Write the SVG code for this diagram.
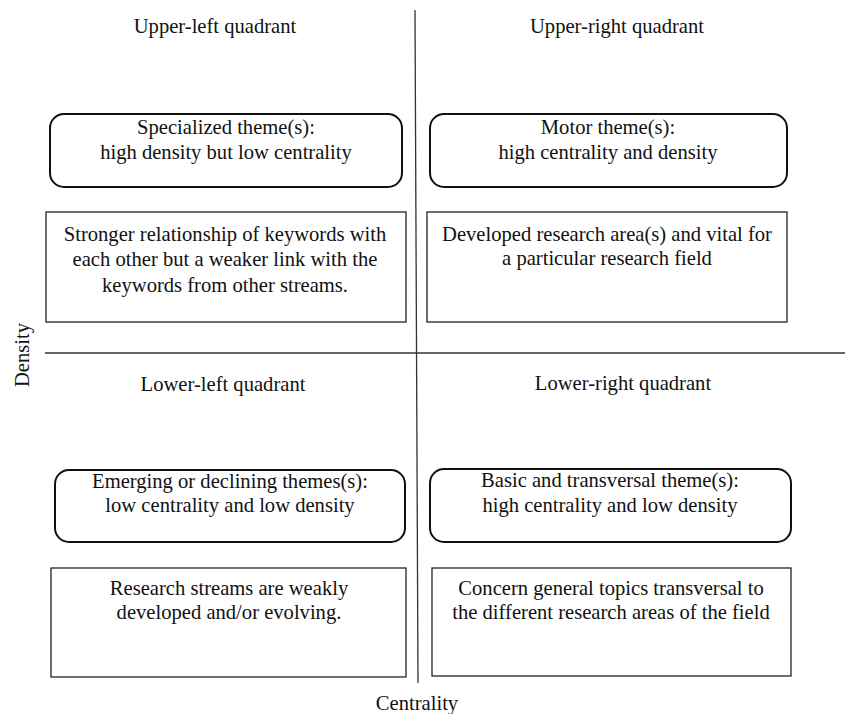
<svg xmlns="http://www.w3.org/2000/svg" width="845" height="714" viewBox="0 0 845 714">
<style>
text{font-family:"Liberation Serif","DejaVu Serif",serif;font-size:20.6px;fill:#111;text-anchor:middle}
.rb{fill:#fff;stroke:#111;stroke-width:2}
.sb{fill:#fff;stroke:#222;stroke-width:1.3}
.ax{stroke:#333;stroke-width:1.3;fill:none}
</style>
<rect width="845" height="714" fill="#fff"/>
<g id="axes">
<line class="ax" x1="415" y1="10" x2="418" y2="683"/>
<line class="ax" x1="45" y1="353" x2="845" y2="353"/>
</g>
<g id="labels">
<text x="215" y="33">Upper-left quadrant</text>
<text x="617" y="33">Upper-right quadrant</text>
<text x="223" y="391">Lower-left quadrant</text>
<text x="623" y="390">Lower-right quadrant</text>
<text x="417" y="710">Centrality</text>
<text transform="translate(29,355) rotate(-90)">Density</text>
</g>
<g id="ul-theme"><rect class="rb" x="50" y="114" width="352" height="73" rx="14"/>
<text x="226" y="134">Specialized theme(s):</text><text x="226" y="159">high density but low centrality</text></g>
<g id="ul-desc"><rect class="sb" x="46" y="212" width="360" height="110"/>
<text x="225" y="241">Stronger relationship of keywords with</text><text x="225" y="266">each other but a weaker link with the</text><text x="225" y="292">keywords from other streams.</text></g>
<g id="ur-theme"><rect class="rb" x="430" y="114" width="357" height="73" rx="14"/>
<text x="608" y="134">Motor theme(s):</text><text x="608" y="159">high centrality and density</text></g>
<g id="ur-desc"><rect class="sb" x="427" y="212" width="360" height="110"/>
<text x="607" y="241">Developed research area(s) and vital for</text><text x="607" y="265">a particular research field</text></g>
<g id="ll-theme"><rect class="rb" x="55" y="470" width="350" height="72" rx="14"/>
<text x="230" y="488">Emerging or declining themes(s):</text><text x="230" y="512">low centrality and low density</text></g>
<g id="ll-desc"><rect class="sb" x="51" y="568" width="355" height="109"/>
<text x="229" y="595">Research streams are weakly</text><text x="229" y="619">developed and/or evolving.</text></g>
<g id="lr-theme"><rect class="rb" x="430" y="469" width="361" height="73" rx="14"/>
<text x="610" y="487">Basic and transversal theme(s):</text><text x="610" y="512">high centrality and low density</text></g>
<g id="lr-desc"><rect class="sb" x="432" y="568" width="359" height="108"/>
<text x="611" y="595">Concern general topics transversal to</text><text x="611" y="619">the different research areas of the field</text></g>
</svg>
